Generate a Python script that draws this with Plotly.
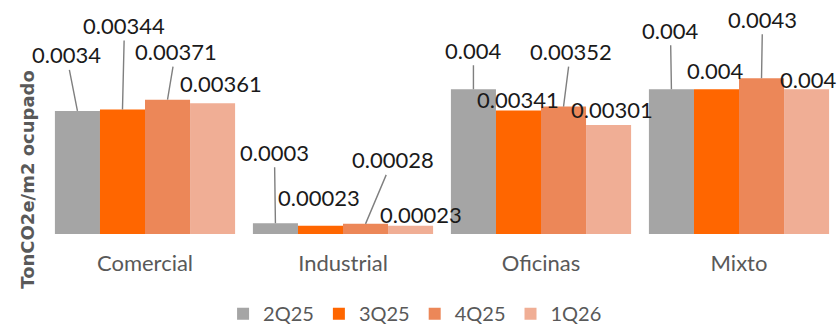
import plotly.graph_objects as go

# Intensity of emissions per occupied m2, by building use and quarter
categories = ["Comercial", "Industrial", "Oficinas", "Mixto"]
quarters = ["2Q25", "3Q25", "4Q25", "1Q26"]
q2_25 = [0.0034, 0.0003, 0.004, 0.004]
q3_25 = [0.00344, 0.00023, 0.00341, 0.004]
q4_25 = [0.00371, 0.00028, 0.00352, 0.0043]
q1_26 = [0.00361, 0.00023, 0.00301, 0.004]
series = [q2_25, q3_25, q4_25, q1_26]

colors = ["#A5A5A5", "#FF6600", "#EC8758", "#F0AE95"]

BARGAP = 0.09
LABEL_FONT = dict(family="Lato", size=22, color="#1a1a1a")

# Callout placement per (category, quarter): pixel offset of the label
# from the bar top and whether a leader line is drawn.
callouts = {
    (0, 0): (-11, -56, True), (0, 1): (2, -84, True),
    (0, 2): (8, -48, True), (0, 3): (8, -20, False),
    (1, 0): (-1, -71, True), (1, 1): (-1, -28, False),
    (1, 2): (27, -64, True), (1, 3): (10, -11, False),
    (2, 0): (0, -39, True), (2, 1): (0, -11, False),
    (2, 2): (7, -55, True), (2, 3): (3, -16, False),
    (3, 0): (-1, -59, True), (3, 1): (-1, -19, False),
    (3, 2): (1, -59, True), (3, 3): (1, -10, False),
}

fig = go.Figure()
for name, vals, col in zip(quarters, series, colors):
    fig.add_trace(go.Bar(
        x=categories, y=vals, name=name,
        marker=dict(color=col, line=dict(width=0)),
        hoverinfo="skip",
    ))

bar_w = (1 - BARGAP) / len(quarters)
annotations = []
for j, vals in enumerate(series):
    for i, v in enumerate(vals):
        ax, ay, line = callouts[(i, j)]
        xpos = i + (j - (len(quarters) - 1) / 2) * bar_w
        text = f"{v:g}"
        if line:
            annotations.append(dict(
                x=xpos, y=v, xref="x", yref="y", text=text,
                showarrow=True, arrowhead=0, arrowwidth=1.4,
                arrowcolor="#7F7F7F", ax=ax, ay=ay, standoff=0,
                font=LABEL_FONT,
            ))
        else:
            annotations.append(dict(
                x=xpos, y=v, xref="x", yref="y", text=text,
                showarrow=False, xshift=ax, yshift=-ay,
                xanchor="center", yanchor="middle", font=LABEL_FONT,
            ))

# Rotated axis title
annotations.append(dict(
    x=-0.0227, y=0.30, xref="paper", yref="paper",
    text="<b>TonCO2e/m2 ocupado</b>", textangle=-90, showarrow=False,
    xanchor="center", yanchor="middle",
    font=dict(family="DejaVu Sans", size=18, color="#595959"),
))

fig.update_layout(
    width=840, height=326,
    margin=dict(l=46, r=2, t=53, b=92, autoexpand=False),
    barmode="group", bargap=BARGAP, bargroupgap=0,
    plot_bgcolor="white", paper_bgcolor="white",
    showlegend=True,
    legend=dict(
        orientation="h", x=0.466, xanchor="center", y=-0.44, yanchor="middle",
        font=dict(family="Lato", size=20, color="#595959"),
        itemsizing="constant",
    ),
    xaxis=dict(
        type="category", range=[-0.5, len(categories) - 0.5],
        showgrid=False, showline=False, zeroline=False,
        automargin=False, ticks="", ticklabelstandoff=14,
        tickfont=dict(family="Lato", size=22, color="#595959"),
    ),
    yaxis=dict(range=[0, 0.005], visible=False, showgrid=False,
               automargin=False),
    annotations=annotations,
)

fig.write_html("out.html")
